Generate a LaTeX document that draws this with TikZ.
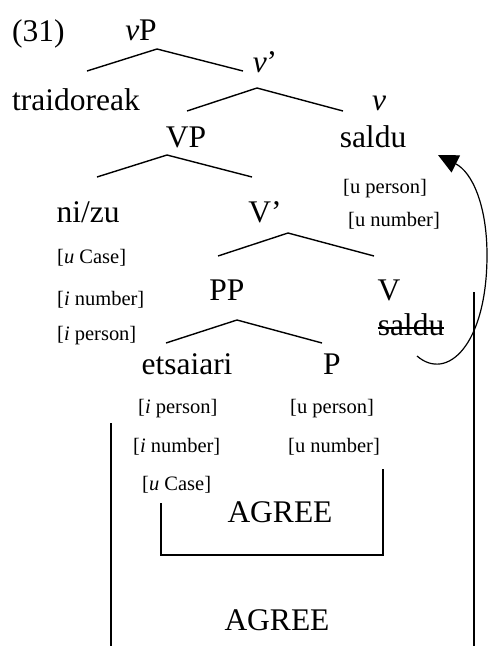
\documentclass[tikz,border=0pt]{standalone}
\usepackage{fontspec}
\setmainfont{Liberation Serif}
\usetikzlibrary{arrows.meta}
\tikzset{
  big/.style={inner sep=0pt, font=\fontsize{31.5}{36}\selectfont, anchor=base},
  feat/.style={inner sep=0pt, font=\fontsize{20.5}{24}\selectfont, anchor=base west},
  branch/.style={line width=1.4pt},
  agreeline/.style={line width=1.4pt},
  move/.style={line width=1.2pt, -{Triangle[length=20pt,width=19pt]}}
}
\begin{document}
\begin{tikzpicture}[x=1pt,y=-1pt]
\useasboundingbox (0,0) rectangle (490,646);
% labels
\node[big, anchor=base west] (n31) at (12,41) {(31)};
\node[big] (vP) at (141,40) {\textit{v}P};
\node[big] (vbar) at (265,72) {\textit{v}’};
\node[big] (traidoreak) at (76,110) {traidoreak};
\node[big] (vhead) at (379,110) {\textit{v}};
\node[big] (VP) at (186,147) {VP};
\node[big] (saldu) at (373,147) {saldu};
\node[big] (nizu) at (88,222) {ni/zu};
\node[big] (Vbar) at (265,222) {V’};
\node[big] (PP) at (227,300) {PP};
\node[big] (V) at (389,300) {V};
\node[big] (trace) at (411,335) {saldu};
\node[big] (etsaiari) at (187,374) {etsaiari};
\node[big] (P) at (332,374) {P};
\node[big] (agreeA) at (280,522) {AGREE};
\node[big] (agreeB) at (277,630) {AGREE};
% features
\node[feat] (f1) at (343,193) {[u person]};
\node[feat] (f2) at (348,226) {[u number]};
\node[feat] (f3) at (57,263) {[\textit{u} Case]};
\node[feat] (f4) at (57,305) {[\textit{i} number]};
\node[feat] (f5) at (57,340) {[\textit{i} person]};
\node[feat] (f6) at (138,413) {[\textit{i} person]};
\node[feat] (f7) at (290,413) {[u person]};
\node[feat] (f8) at (133,452) {[\textit{i} number]};
\node[feat] (f9) at (288,452) {[u number]};
\node[feat] (f10) at (142,490) {[\textit{u} Case]};
% strike through trace
\draw[line width=1.3pt] ([yshift=7pt]trace.base west) -- ([yshift=7pt]trace.base east);
% branch coordinates
\coordinate (aL) at (87,71);  \coordinate (aT) at (157,49);  \coordinate (aR) at (243,71);
\coordinate (bL) at (187,111); \coordinate (bT) at (257,88); \coordinate (bR) at (343,111);
\coordinate (cL) at (97,177);  \coordinate (cT) at (167,155); \coordinate (cR) at (252,177);
\coordinate (dL) at (218,256); \coordinate (dT) at (288,233); \coordinate (dR) at (374,256);
\coordinate (eL) at (166,343); \coordinate (eT) at (237,320); \coordinate (eR) at (322,343);
\draw[branch] (aL) -- (aT) -- (aR);
\draw[branch] (bL) -- (bT) -- (bR);
\draw[branch] (cL) -- (cT) -- (cR);
\draw[branch] (dL) -- (dT) -- (dR);
\draw[branch] (eL) -- (eT) -- (eR);
% agree brackets
\coordinate (g1) at (161,503); \coordinate (g2) at (161,555);
\coordinate (g3) at (383,555); \coordinate (g4) at (383,469);
\draw[agreeline] (g1) -- (g2) -- (g3) -- (g4);
\coordinate (h1) at (111,423); \coordinate (h2) at (111,646);
\coordinate (k1) at (474,292); \coordinate (k2) at (474,646);
\draw[agreeline] (h1) -- (h2);
\draw[agreeline] (k1) -- (k2);
% movement arrow
\coordinate (m0) at (417,356);
\coordinate (m1) at (487,255);
\coordinate (m2) at (438,155);
\draw[move] (m0) .. controls (447,382) and (487,345) .. (m1)
  .. controls (487,205) and (472,172) .. (m2);
\end{tikzpicture}
\end{document}
